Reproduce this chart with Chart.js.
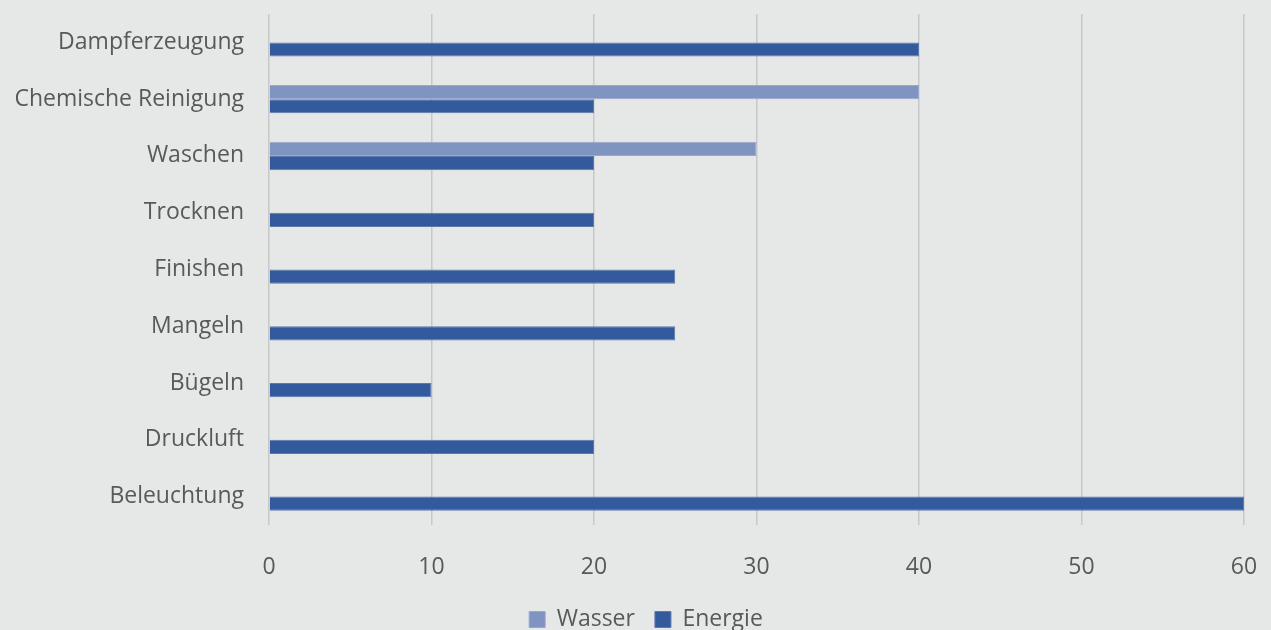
<!DOCTYPE html>
<html>
<head>
<meta charset="utf-8">
<script src="https://cdn.jsdelivr.net/npm/chart.js@4/dist/chart.umd.min.js"></script>
<style>
  html, body { margin: 0; padding: 0; background: #e6e7e7; }
  #wrap { width: 1271px; height: 630px; }
</style>
</head>
<body>
<div id="wrap"><canvas id="myChart" width="1271" height="630"></canvas></div>
<script>
const kategorien = ["Dampferzeugung", "Chemische Reinigung", "Waschen", "Trocknen", "Finishen", "Mangeln", "Bügeln", "Druckluft", "Beleuchtung"];
const wasser = [0, 40, 30, 0, 0, 0, 0, 0, 0];
const energie = [40, 20, 20, 20, 25, 25, 10, 20, 60];
const achsenTicks = [0, 10, 20, 30, 40, 50, 60];

const schrift = "'Open Sans', 'DejaVu Sans', sans-serif";
const textFarbe = "#595959";

// keine zusätzlichen Ränder für überstehende Beschriftungen
function ohneRand(axis) {
  axis.paddingTop = 0;
  axis.paddingBottom = 0;
  axis.paddingLeft = 0;
  axis.paddingRight = 0;
}

// Legende etwas nach rechts rücken
const legendeVerschieben = {
  id: "legendeVerschieben",
  afterLayout(chart) {
    chart.legend.left = 48;
  },
};

function graficoChart() {
  const ctx = document.querySelector("#myChart").getContext("2d");

  new Chart(ctx, {
    type: "bar",
    data: {
      labels: kategorien,
      datasets: [
        {
          label: "Wasser",
          data: wasser,
          backgroundColor: "#8094c2",
          borderColor: "#97a8cf",
          borderWidth: 1,
          categoryPercentage: 0.5,
          barPercentage: 1,
        },
        {
          label: "Energie",
          data: energie,
          backgroundColor: "#335a9c",
          borderColor: "#5b79ad",
          borderWidth: 1,
          categoryPercentage: 0.5,
          barPercentage: 1,
        },
      ],
    },
    options: {
      indexAxis: "y",
      responsive: false,
      animation: false,
      // die Legende ragt unten etwas aus dem Bild
      layout: { padding: { top: 14, right: 27, left: 0, bottom: -11 } },
      scales: {
        x: {
          min: 0,
          max: 60,
          afterBuildTicks: (axis) => {
            axis.ticks = achsenTicks.map((v) => ({ value: v }));
          },
          grid: { color: "#c8c8c8", lineWidth: 1.5, drawTicks: false },
          border: { display: false },
          ticks: {
            padding: 29,
            color: textFarbe,
            font: { family: schrift, size: 23 },
          },
          afterFit: (axis) => { axis.height = 63; ohneRand(axis); },
        },
        y: {
          grid: { display: false, drawTicks: false },
          border: { display: false },
          ticks: {
            padding: 25,
            color: textFarbe,
            font: { family: schrift, size: 23 },
          },
          afterFit: (axis) => { axis.width = 269; ohneRand(axis); },
        },
      },
      plugins: {
        legend: {
          position: "bottom",
          labels: {
            boxWidth: 16,
            boxHeight: 16,
            padding: 20,
            color: textFarbe,
            font: { family: schrift, size: 23 },
          },
        },
        tooltip: { enabled: false },
      },
    },
    plugins: [legendeVerschieben],
  });
}

window.onload = function () {
  graficoChart();
};
</script>
</body>
</html>
